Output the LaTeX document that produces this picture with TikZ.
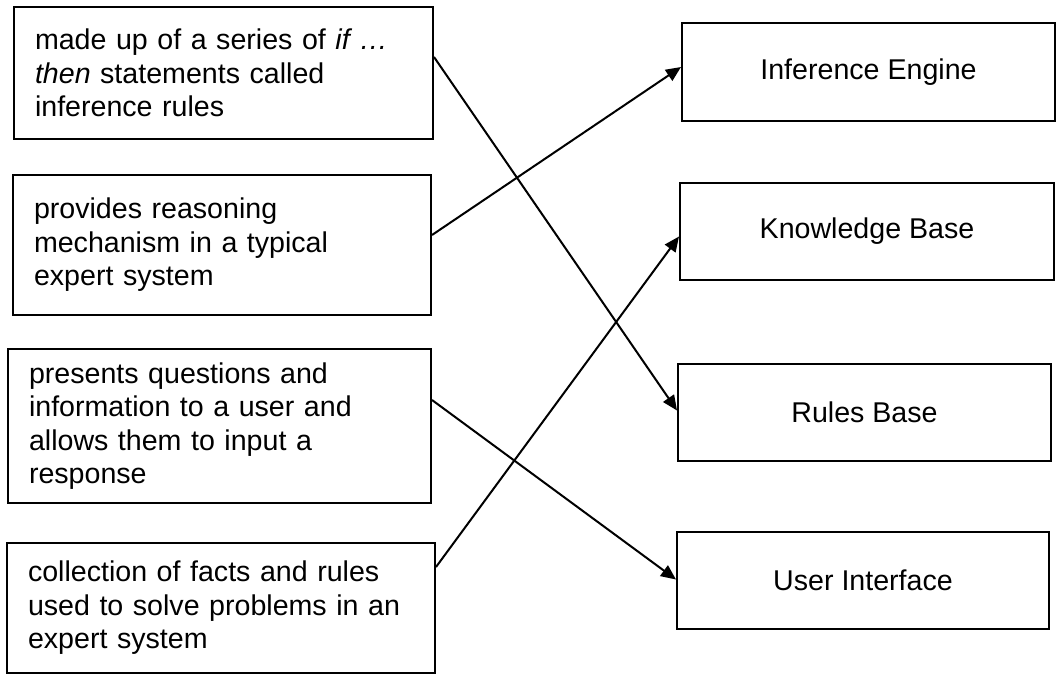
\documentclass[tikz,border=0pt]{standalone}
\usepackage{fontspec}
\setmainfont{Liberation Sans}
\usetikzlibrary{arrows.meta}
\tikzset{
	desc/.style={rectangle, draw=black, line width=2pt, align=left,
		inner xsep=21pt, inner ysep=0pt, font=\fontsize{28.6}{33.5}\selectfont},
	part/.style={rectangle, draw=black, line width=2pt, align=center,
		inner sep=0pt, font=\fontsize{28.6}{33.5}\selectfont},
}

\begin{document}
\begin{tikzpicture}[x=1pt, y=-1pt,
	link/.style={line width=2pt, -{Triangle[length=15pt,width=13pt]}}]
	
	\useasboundingbox (0,0) rectangle (1056,675);
	
	% descriptions (left column)
	\node[desc, text width=377pt, minimum height=132pt] (descIf) at (223.5,73)
		{made up of a series of \textit{if …}\\\textit{then} statements called\\inference rules};
	\node[desc, text width=376pt, minimum height=140pt] (descReason) at (222,245)
		{provides reasoning\\mechanism in a typical\\expert system};
	\node[desc, text width=381pt, minimum height=154pt] (descUser) at (219.5,426)
		{presents questions and\\information to a user and\\allows them to input a\\response};
	\node[desc, text width=386pt, minimum height=130pt] (descFacts) at (221,608)
		{collection of facts and rules\\used to solve problems in an\\expert system};
	
	% parts of an expert system (right column)
	\node[part, minimum width=373pt, minimum height=98pt] (IE) at (868.5,72) {Inference Engine};
	\node[part, minimum width=374pt, minimum height=97pt] (KB) at (867,231.5) {Knowledge Base};
	\node[part, minimum width=373pt, minimum height=97pt] (RB) at (864.5,412.5) {Rules Base};
	\node[part, minimum width=372pt, minimum height=97pt] (UI) at (863,580.5) {User Interface};
	
	% matching arrows
	\foreach \src/\sdy/\dst/\ddy in {descIf/16/RB/2, descReason/10/IE/5,
		descUser/26/UI/1, descFacts/41/KB/-5}
	\draw[link] ([yshift=\sdy pt]\src.east) -- ([yshift=\ddy pt]\dst.west);
	
\end{tikzpicture}
\end{document}
